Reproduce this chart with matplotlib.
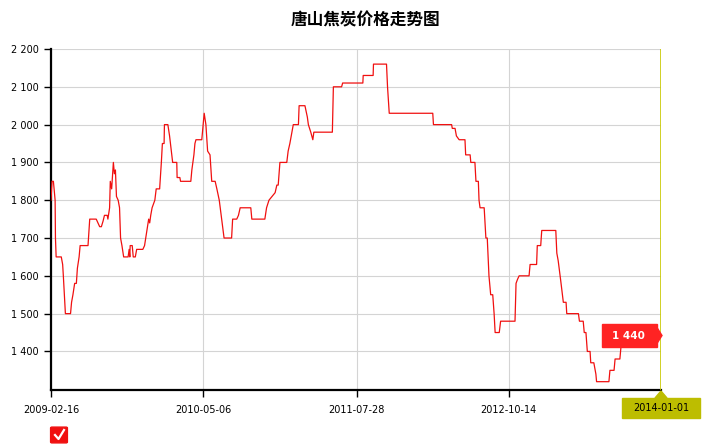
import matplotlib
matplotlib.use("Agg")
import matplotlib.pyplot as plt
import matplotlib.dates as mdates
from matplotlib.patches import FancyBboxPatch, Polygon
import pandas as pd

plt.rcParams['font.family'] = ['DejaVu Sans', 'Noto Sans CJK SC']

title = "唐山焦炭价格走势图"
start_date = "2009-02-16"

# days since start_date, and the coke price at that day
day_offsets = [0, 3, 7, 12, 13, 15, 30, 34, 36, 39, 42, 57, 60, 64, 69, 74, 77, 82, 85,
               108, 113, 132, 137, 142, 147, 152, 156, 164, 166, 171, 173, 177, 182, 185,
               188, 191, 196, 200, 203, 207, 212, 225, 228, 230, 231, 237, 240, 246, 250,
               268, 273, 280, 285, 288, 291, 295, 303, 307, 317, 322, 325, 330, 331, 341,
               346, 355, 367, 368, 376, 378, 408, 411, 417, 420, 423, 440, 443, 447, 452,
               457, 464, 469, 479, 484, 491, 498, 505, 527, 530, 542, 547, 552, 583, 586,
               624, 629, 636, 654, 659, 663, 668, 688, 692, 697, 707, 722, 724, 741, 748,
               751, 758, 764, 767, 821, 824, 848, 851, 910, 911, 940, 941, 979, 982, 987,
               1114, 1116, 1169, 1171, 1179, 1183, 1191, 1208, 1210, 1223, 1225, 1237, 1240,
               1247, 1249, 1252, 1264, 1269, 1273, 1278, 1283, 1289, 1293, 1296, 1308, 1312,
               1354, 1357, 1361, 1366, 1395, 1398, 1417, 1419, 1429, 1432, 1473, 1476, 1480,
               1487, 1495, 1503, 1505, 1539, 1542, 1553, 1556, 1561, 1565, 1573, 1575, 1584,
               1590, 1592, 1628, 1631, 1643, 1646, 1660, 1663, 1666, 1780]
prices = [1800, 1850, 1850, 1800, 1700, 1650, 1650, 1630, 1600, 1550, 1500, 1500, 1530, 1550,
          1580, 1580, 1620, 1650, 1680,
          1680, 1750, 1750, 1740, 1730, 1730, 1745, 1760, 1760, 1750, 1780, 1850, 1830, 1900,
          1870, 1880, 1810, 1800, 1780, 1700, 1680, 1650, 1650, 1670, 1650, 1680, 1680, 1650,
          1650, 1670,
          1670, 1680, 1720, 1750, 1740, 1760, 1780, 1800, 1830, 1830, 1900, 1950, 1950, 2000,
          2000,
          1970, 1900, 1900, 1860, 1860, 1850, 1850, 1880, 1920, 1950, 1960, 1960, 1990, 2030,
          2000,
          1930, 1920, 1850, 1850, 1830, 1800, 1750, 1700, 1700, 1750, 1750, 1760, 1780, 1780,
          1750,
          1750, 1780, 1800, 1820, 1840, 1840, 1900, 1900, 1930, 1950, 2000, 2000, 2050, 2050,
          2020,
          2000, 1980, 1960, 1980, 1980, 2100, 2100, 2110, 2110, 2130, 2130, 2160, 2160, 2100,
          2030,
          2030, 2000, 2000, 1990, 1990, 1970, 1960, 1960, 1920, 1920, 1900, 1900, 1850,
          1850, 1800, 1780, 1780, 1700, 1700, 1600, 1550, 1550, 1500, 1450, 1450, 1480,
          1480, 1580, 1590, 1600, 1600, 1630, 1630, 1680, 1680, 1720, 1720, 1660, 1640,
          1590, 1530, 1530, 1500, 1500, 1480, 1480, 1450, 1450, 1400, 1400, 1370, 1370,
          1340, 1320, 1320, 1350, 1350, 1380, 1380, 1410, 1440, 1440]

tick_dates = ["2009-02-16", "2010-05-06", "2011-07-28", "2012-10-14", "2014-01-01"]
y_ticks = [1400, 1500, 1600, 1700, 1800, 1900, 2000, 2100, 2200]

dates = pd.Timestamp(start_date) + pd.to_timedelta(day_offsets, unit="D")
ticks = pd.to_datetime(tick_dates)

fig = plt.figure(figsize=(7.02, 4.45), dpi=100)
ax = fig.add_axes([51 / 702, 1 - 390 / 445, 610 / 702, 341 / 445])

ax.plot(dates, prices, color="#f01010", lw=0.9, zorder=3)

ax.set_xlim(ticks[0], ticks[-1])
ax.set_ylim(1298, 2200)
ax.set_yticks(y_ticks)
ax.yaxis.set_major_formatter(plt.FuncFormatter(lambda v, p: f"{v:,.0f}".replace(",", " ")))
ax.set_xticks(ticks[:-1])
ax.xaxis.set_major_formatter(mdates.DateFormatter("%Y-%m-%d"))

ax.grid(True, color="#d4d4d4", lw=0.8)
ax.set_axisbelow(True)
for s in ["top", "right"]:
    ax.spines[s].set_visible(False)
ax.spines["left"].set_linewidth(1.6)
ax.spines["bottom"].set_linewidth(1.6)
ax.tick_params(axis="both", labelsize=7, color="black", width=1, length=5, pad=4)
ax.tick_params(axis="x", pad=6)

# crosshair at the last point
ax.axvline(ticks[-1], color="#c8c800", lw=1.2, zorder=4)

# date label on the crosshair
fig.patches.append(Polygon([[655 / 702, 1 - 398 / 445], [661 / 702, 1 - 391 / 445],
                            [667 / 702, 1 - 398 / 445]], closed=True,
                           transform=fig.transFigure, color="#bdbd00"))
fig.patches.append(FancyBboxPatch((622 / 702, 1 - 418 / 445), 78 / 702, 20 / 445,
                                  boxstyle="square,pad=0", transform=fig.transFigure,
                                  color="#bdbd00"))
fig.text(661 / 702, 1 - 408 / 445, tick_dates[-1], fontsize=7, ha="center", va="center")

# value label
last = prices[-1]
fig.patches.append(FancyBboxPatch((602 / 702, 1 - 347 / 445), 55 / 702, 23 / 445,
                                  boxstyle="square,pad=0", transform=fig.transFigure,
                                  color="#ff2323", zorder=5))
fig.patches.append(Polygon([[656 / 702, 1 - 326 / 445], [662 / 702, 1 - 335.5 / 445],
                            [656 / 702, 1 - 345 / 445]], closed=True,
                           transform=fig.transFigure, color="#ff2323", zorder=5))
fig.text(628 / 702, 1 - 336 / 445, f"{last:,}".replace(",", " "), fontsize=7.5,
         color="white", weight="bold", ha="center", va="center", zorder=6)

# legend checkbox
fig.patches.append(FancyBboxPatch((52 / 702, 1 - 442 / 445), 14 / 702, 14 / 445,
                                  boxstyle="round,pad=0.002", transform=fig.transFigure,
                                  color="#f01010"))
fig.lines.append(plt.Line2D([55 / 702, 58.5 / 702, 64 / 702],
                            [1 - 435 / 445, 1 - 439 / 445, 1 - 430 / 445],
                            transform=fig.transFigure, color="white", lw=1.6))

fig.text(365 / 702, 1 - 20 / 445, title, fontsize=12, weight="bold",
         family=["Noto Sans CJK SC", "DejaVu Sans"], ha="center", va="center")

fig.savefig("out.png", dpi=100)
